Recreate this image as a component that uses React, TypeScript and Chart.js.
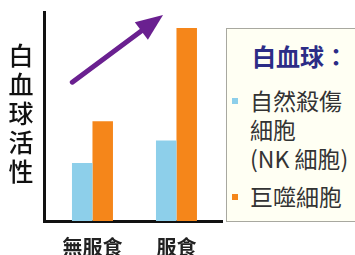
import React, { useEffect, useRef } from "react";
import { Chart, registerables } from "chart.js";

Chart.register(...registerables);

// ---- data ----
const categories = ["無服食", "服食"];
const seriesLabels = ["自然殺傷\n細胞\n(NK 細胞)", "巨噬細胞"];
const nkValues = [27.8, 38.5];
const macrophageValues = [47.7, 92.3];
const seriesColors = ["#8dcfea", "#f5861a"];
const yAxisTitle = "白血球活性";
const legendTitle = "白血球：";
// trend arrow, in data units [x index, y value]
const arrowFrom = [-0.24, 66.4];
const arrowTo = [0.84, 98.6];

const FONT = '"Noto Sans CJK TC", "Noto Sans", sans-serif';

const arrowPlugin = {
  id: "trendArrow",
  afterDatasetsDraw(chart: any) {
    const xs = chart.scales.x;
    const ys = chart.scales.y;
    const x1 = xs.getPixelForValue(arrowFrom[0]);
    const y1 = ys.getPixelForValue(arrowFrom[1]);
    const x2 = xs.getPixelForValue(arrowTo[0]);
    const y2 = ys.getPixelForValue(arrowTo[1]);
    const dx = x2 - x1;
    const dy = y2 - y1;
    const len = Math.hypot(dx, dy);
    const ux = dx / len;
    const uy = dy / len;
    const headLen = 27;
    const headHalf = 11;
    const bx = x2 - ux * headLen;
    const by = y2 - uy * headLen;
    const ctx = chart.ctx;
    ctx.save();
    ctx.strokeStyle = "#6a2090";
    ctx.fillStyle = "#6a2090";
    ctx.lineWidth = 5;
    ctx.lineCap = "round";
    ctx.beginPath();
    ctx.moveTo(x1, y1);
    ctx.lineTo(bx + ux * 2, by + uy * 2);
    ctx.stroke();
    ctx.beginPath();
    ctx.moveTo(x2, y2);
    ctx.lineTo(bx - uy * headHalf, by + ux * headHalf);
    ctx.lineTo(bx + uy * headHalf, by - ux * headHalf);
    ctx.closePath();
    ctx.fill();
    ctx.restore();
  },
};

export default function App() {
  const canvasRef = useRef<HTMLCanvasElement | null>(null);

  useEffect(() => {
    if (!canvasRef.current) return;
    const chart = new Chart(canvasRef.current, {
      type: "bar",
      data: {
        datasets: [
          {
            label: seriesLabels[0],
            data: nkValues.map((v, i) => ({ x: i, y: v })),
            backgroundColor: seriesColors[0],
            borderWidth: 0,
            categoryPercentage: 0.488,
            barPercentage: 1,
          },
          {
            label: seriesLabels[1],
            data: macrophageValues.map((v, i) => ({ x: i, y: v })),
            backgroundColor: seriesColors[1],
            borderWidth: 0,
            categoryPercentage: 0.488,
            barPercentage: 1,
          },
        ],
      } as any,
      options: {
        responsive: false,
        maintainAspectRatio: false,
        animation: false,
        layout: { padding: { left: 44, top: 12, right: 133, bottom: 2 } },
        plugins: {
          legend: { display: false },
          tooltip: { enabled: false },
          title: { display: false },
        },
        scales: {
          x: {
            type: "linear",
            offset: false,
            min: -0.577,
            max: 1.542,
            grid: { display: false, drawTicks: false },
            border: { display: true, width: 3, color: "#111" },
            afterBuildTicks: (s: any) => {
              s.ticks = categories.map((_, i) => ({ value: i }));
            },
            ticks: {
              callback: (v: any) => categories[Number(v)] ?? "",
              font: { family: FONT, size: 20, weight: "bold" },
              color: "#222",
              padding: 14,
              autoSkip: false,
              maxRotation: 0,
            },
          },
          y: {
            min: 0,
            max: 100,
            grid: { display: false, drawTicks: false },
            ticks: { display: false },
            border: { display: true, width: 3, color: "#111" },
          },
        },
      } as any,
      plugins: [arrowPlugin],
    });
    return () => chart.destroy();
  }, []);

  return (
    <div
      style={{
        position: "fixed",
        left: 0,
        top: 0,
        width: 355,
        height: 255,
        overflow: "hidden",
        background: "#ffffff",
        fontFamily: FONT,
      }}
    >
      <canvas
        ref={canvasRef}
        width={355}
        height={275}
        style={{ position: "absolute", left: 0, top: 0, width: 355, height: 275 }}
      />
      <div
        style={{
          position: "absolute",
          left: 8,
          top: 40,
          width: 26,
          fontSize: 25,
          lineHeight: "29px",
          fontWeight: 500,
          color: "#111",
          textAlign: "center",
        }}
      >
        {yAxisTitle.split("").map((c, i) => (
          <div key={i}>{c}</div>
        ))}
      </div>
      <div
        style={{
          position: "absolute",
          left: 226,
          top: 28,
          width: 160,
          height: 194,
          border: "1px solid #a8a8a0",
          background: "#fffff3",
          boxSizing: "border-box",
        }}
      >
        <div
          style={{
            position: "absolute",
            left: 25,
            top: 14,
            fontSize: 24,
            lineHeight: "26px",
            fontWeight: "bold",
            color: "#2c2c86",
            whiteSpace: "nowrap",
          }}
        >
          {legendTitle}
        </div>
        <div style={{ position: "absolute", left: 5, top: 57 }}>
          {seriesLabels.map((lab, i) => (
            <div
              key={i}
              style={{ display: "flex", alignItems: "flex-start", marginBottom: 9 }}
            >
              <div
                style={{
                  width: 6,
                  height: 6,
                  marginTop: 12,
                  background: seriesColors[i],
                  flex: "none",
                }}
              />
              <div
                style={{
                  marginLeft: 12,
                  fontSize: 23,
                  lineHeight: "29px",
                  color: "#333",
                  whiteSpace: "pre-line",
                }}
              >
                {lab}
              </div>
            </div>
          ))}
        </div>
      </div>
    </div>
  );
}
